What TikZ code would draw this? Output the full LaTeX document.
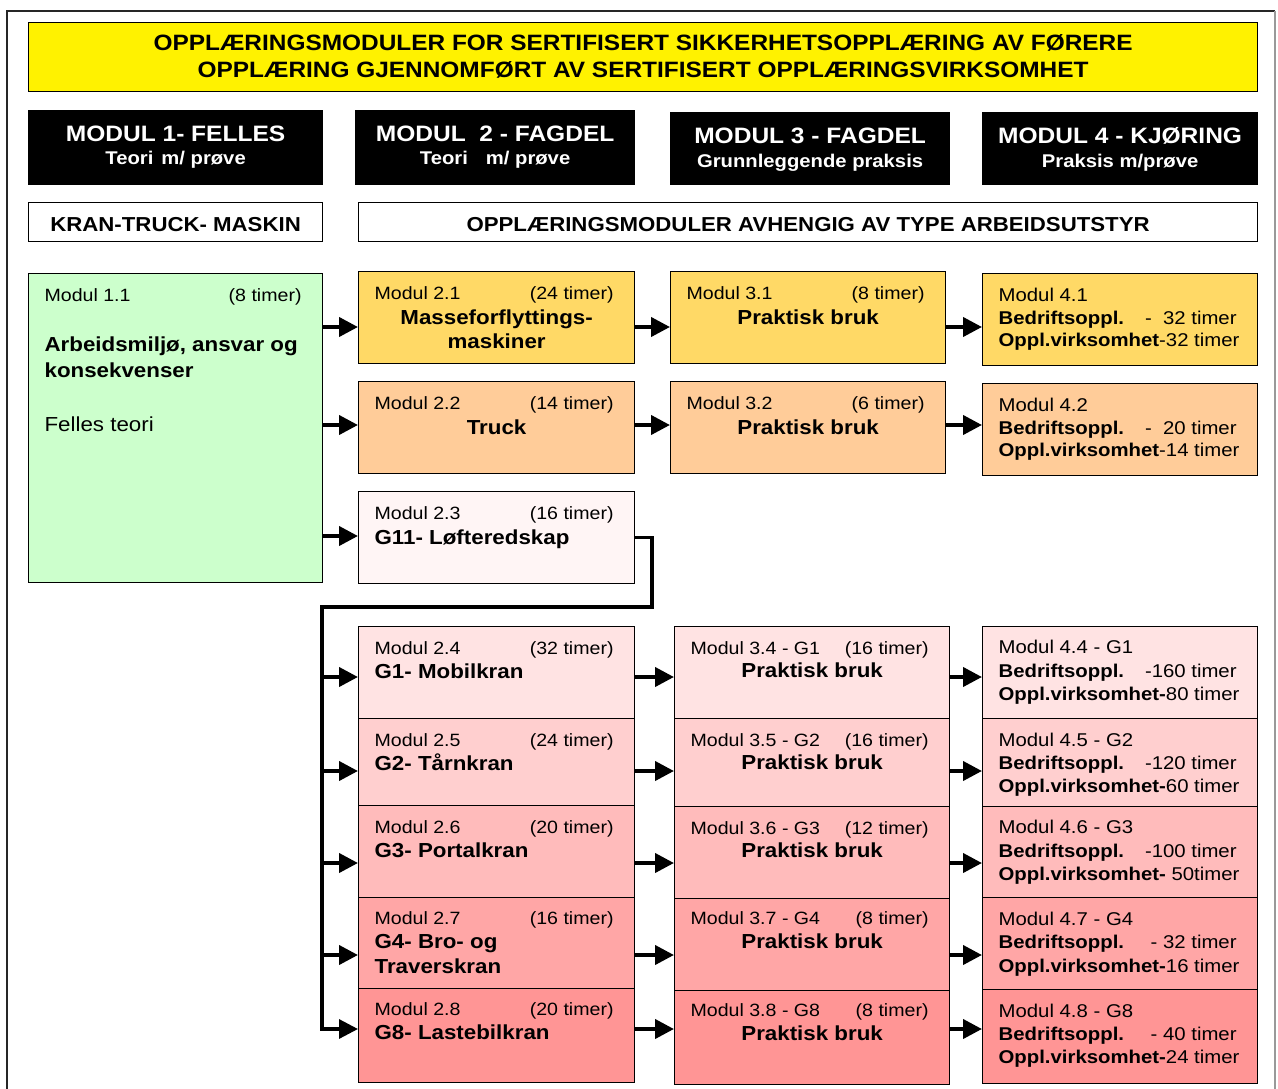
\documentclass[tikz,border=0pt]{standalone}
\usepackage{fontspec}
\setmainfont{Liberation Sans}[FakeStretch=1.1]
\usetikzlibrary{arrows.meta}

\definecolor{grnfill}{HTML}{CCFFCC}
\definecolor{gulfill}{HTML}{FFD966}
\definecolor{ferskfill}{HTML}{FFCC99}
\definecolor{rosa3}{HTML}{FFF5F5}
\definecolor{rosa4}{HTML}{FFE3E3}
\definecolor{rosa5}{HTML}{FFCFCF}
\definecolor{rosa6}{HTML}{FFBBBB}
\definecolor{rosa7}{HTML}{FFA6A6}
\definecolor{rosa8}{HTML}{FF9595}

\newcommand{\boxtxt}[5]{\parbox[c][#2pt][t]{#1pt}{\lineskiplimit=-100pt\parskip=0pt\parindent=0pt\baselineskip=#4pt\hbox{}\kern\dimexpr#3pt-#4pt\relax#5}}
\newcommand{\lr}[2]{\par\noindent\kern16pt\relax#1\hfill#2\kern21pt\relax\par}
\newcommand{\lft}[1]{\par\noindent\kern16pt\relax#1\par}
\newcommand{\ctr}[1]{\par\centerline{#1}}
\newcommand{\ttl}[1]{{\fontsize{20.3}{24}\selectfont\bfseries#1}}
\newcommand{\hbig}[1]{{\fontsize{22.3}{24}\selectfont#1}}
\newcommand{\hsmall}[1]{{\fontsize{18.4}{20}\selectfont#1}}

\begin{document}
\begin{tikzpicture}[x=1pt,y=-1pt,
    mod/.style={draw,line width=1.2pt,inner sep=0pt,anchor=north west,font=\fontsize{17.8}{20}\selectfont},
    hdr/.style={mod,fill=black,text=white,font=\bfseries},
    gtxt/.style={mod,font=\fontsize{18.5}{22}\selectfont},
    arr/.style={line width=4pt,-{Triangle[length=19pt,width=19pt]}}]

  \useasboundingbox (0,0) rectangle (1278,1089);
  \draw[line width=1.5pt,black!85] (7,1089) -- (7,11) -- (1275,11);
  \draw[line width=1.5pt,black!40] (1275,11) -- (1275,1089);

  \node[mod,fill=yellow,font=\bfseries\fontsize{22.2}{27}\selectfont] (title) at (28,22)
    {\boxtxt{1229}{69}{28}{27}{\ctr{OPPLÆRINGSMODULER FOR SERTIFISERT SIKKERHETSOPPLÆRING AV FØRERE}\ctr{OPPLÆRING GJENNOMFØRT AV SERTIFISERT OPPLÆRINGSVIRKSOMHET}}};

  \node[hdr] (h1) at (28,110) {\boxtxt{294}{74}{30.7}{23.5}{\ctr{\hbig{MODUL 1- FELLES}}\ctr{\hsmall{Teori\hspace{8pt}m/ prøve}}}};
  \node[hdr] (h2) at (355,110) {\boxtxt{279}{74}{30.7}{23.5}{\ctr{\hbig{MODUL\ \ 2 - FAGDEL}}\ctr{\hsmall{Teori\hspace{18pt}m/ prøve}}}};
  \node[hdr] (h3) at (670,112) {\boxtxt{279}{72}{30.7}{24}{\ctr{\hbig{MODUL 3 - FAGDEL}}\ctr{\hsmall{Grunnleggende praksis}}}};
  \node[hdr] (h4) at (982,112) {\boxtxt{275}{72}{30.7}{24}{\ctr{\hbig{MODUL 4 - KJØRING}}\ctr{\hsmall{Praksis m/prøve}}}};

  \node[mod,font=\bfseries\fontsize{20.2}{24}\selectfont] (band1) at (28,202) {\boxtxt{294}{39}{28.7}{24}{\ctr{KRAN-TRUCK- MASKIN}}};
  \node[mod,font=\bfseries\fontsize{20.2}{24}\selectfont] (band2) at (358,202) {\boxtxt{899}{39}{28.7}{24}{\ctr{OPPLÆRINGSMODULER AVHENGIG AV TYPE ARBEIDSUTSTYR}}};

  \node[mod,fill=grnfill] (m11) at (28,273) {\boxtxt{294}{309}{28}{25.5}{\lr{Modul 1.1}{(8 timer)}\vskip24.5pt
    \lft{\ttl{Arbeidsmiljø, ansvar og}}\lft{\ttl{konsekvenser}}\vskip29pt
    \lft{{\fontsize{20.3}{24}\selectfont Felles teori}}}};

  \node[mod,fill=gulfill] (m21) at (358,271) {\boxtxt{276}{92}{28}{24.5}{\lr{Modul 2.1}{(24 timer)}\ctr{\ttl{Masseforflyttings-}}\ctr{\ttl{maskiner}}}};
  \node[mod,fill=ferskfill] (m22) at (358,381) {\boxtxt{276}{92}{28}{24.5}{\lr{Modul 2.2}{(14 timer)}\ctr{\ttl{Truck}}}};
  \node[mod,fill=rosa3] (m23) at (358,491) {\boxtxt{276}{92}{28}{24.5}{\lr{Modul 2.3}{(16 timer)}\lft{\ttl{G11- Løfteredskap}}}};

  \node[mod,fill=gulfill] (m31) at (670,271) {\boxtxt{275}{92}{28}{24.5}{\lr{Modul 3.1}{(8 timer)}\ctr{\ttl{Praktisk bruk}}}};
  \node[mod,fill=ferskfill] (m32) at (670,381) {\boxtxt{275}{92}{28}{24.5}{\lr{Modul 3.2}{(6 timer)}\ctr{\ttl{Praktisk bruk}}}};

  \node[gtxt,fill=gulfill] (m41) at (982,273) {\boxtxt{275}{92}{27.7}{22.7}{\lft{Modul 4.1}\lr{\textbf{Bedriftsoppl.}}{-~~32 timer}\lft{\textbf{Oppl.virksomhet}-32 timer}}};
  \node[gtxt,fill=ferskfill] (m42) at (982,383) {\boxtxt{275}{92}{27.7}{22.7}{\lft{Modul 4.2}\lr{\textbf{Bedriftsoppl.}}{-~~20 timer}\lft{\textbf{Oppl.virksomhet}-14 timer}}};

  \node[mod,fill=rosa4] (m24) at (358,626) {\boxtxt{276}{92}{27.5}{24}{\lr{Modul 2.4}{(32 timer)}\lft{\ttl{G1- Mobilkran}}}};
  \node[mod,fill=rosa5] (m25) at (358,718) {\boxtxt{276}{87}{27.5}{24}{\lr{Modul 2.5}{(24 timer)}\lft{\ttl{G2- Tårnkran}}}};
  \node[mod,fill=rosa6] (m26) at (358,805) {\boxtxt{276}{92}{27.5}{24}{\lr{Modul 2.6}{(20 timer)}\lft{\ttl{G3- Portalkran}}}};
  \node[mod,fill=rosa7] (m27) at (358,897) {\boxtxt{276}{91}{26.5}{24.7}{\lr{Modul 2.7}{(16 timer)}\lft{\ttl{G4- Bro- og}}\lft{\ttl{Traverskran}}}};
  \node[mod,fill=rosa8] (m28) at (358,988) {\boxtxt{276}{94}{27}{24}{\lr{Modul 2.8}{(20 timer)}\lft{\ttl{G8- Lastebilkran}}}};

  \node[mod,fill=rosa4] (m34) at (674,626) {\boxtxt{275}{92}{27.5}{23.5}{\lr{Modul 3.4 - G1}{(16 timer)}\ctr{\ttl{Praktisk bruk}}}};
  \node[mod,fill=rosa5] (m35) at (674,718) {\boxtxt{275}{88}{27.5}{23.5}{\lr{Modul 3.5 - G2}{(16 timer)}\ctr{\ttl{Praktisk bruk}}}};
  \node[mod,fill=rosa6] (m36) at (674,806) {\boxtxt{275}{92}{27.5}{23.5}{\lr{Modul 3.6 - G3}{(12 timer)}\ctr{\ttl{Praktisk bruk}}}};
  \node[mod,fill=rosa7] (m37) at (674,898) {\boxtxt{275}{92}{26}{24}{\lr{Modul 3.7 - G4}{(8 timer)}\ctr{\ttl{Praktisk bruk}}}};
  \node[mod,fill=rosa8] (m38) at (674,990) {\boxtxt{275}{94}{26}{24}{\lr{Modul 3.8 - G8}{(8 timer)}\ctr{\ttl{Praktisk bruk}}}};

  \node[gtxt,fill=rosa4] (m44) at (982,626) {\boxtxt{275}{92}{27.3}{23.3}{\lft{Modul 4.4 - G1}\lr{\textbf{Bedriftsoppl.}}{-160 timer}\lft{\textbf{Oppl.virksomhet-}80 timer}}};
  \node[gtxt,fill=rosa5] (m45) at (982,718) {\boxtxt{275}{88}{27.5}{23.3}{\lft{Modul 4.5 - G2}\lr{\textbf{Bedriftsoppl.}}{-120 timer}\lft{\textbf{Oppl.virksomhet-}60 timer}}};
  \node[gtxt,fill=rosa6] (m46) at (982,806) {\boxtxt{275}{91}{27.3}{23.3}{\lft{Modul 4.6 - G3}\lr{\textbf{Bedriftsoppl.}}{-100 timer}\lft{\textbf{Oppl.virksomhet-} 50timer}}};
  \node[gtxt,fill=rosa7] (m47) at (982,897) {\boxtxt{275}{92}{28}{23.3}{\lft{Modul 4.7 - G4}\lr{\textbf{Bedriftsoppl.}}{- 32 timer}\lft{\textbf{Oppl.virksomhet-}16 timer}}};
  \node[gtxt,fill=rosa8] (m48) at (982,989) {\boxtxt{275}{94}{27.7}{23.3}{\lft{Modul 4.8 - G8}\lr{\textbf{Bedriftsoppl.}}{- 40 timer}\lft{\textbf{Oppl.virksomhet-}24 timer}}};

  \coordinate (j1) at (322,327);
  \coordinate (j2) at (322,425);
  \coordinate (j3) at (322,536);
  \coordinate (j4) at (322,677);
  \coordinate (j5) at (322,771);
  \coordinate (j6) at (322,863);
  \coordinate (j7) at (322,955);
  \coordinate (j8) at (322,1029);
  \coordinate (bend) at (652,607);

  \foreach \n in {1,2,3}
    \draw[arr] (m11.east |- j\n) -- (m2\n.west |- j\n);
  \draw[arr,line width=3.2pt] (m23.east) -| (bend) -| (j8) -- (m28.west |- j8);
  \foreach \n in {4,...,7}
    \draw[arr] (j\n) -- (m2\n.west |- j\n);
  \foreach \n in {1,2,4,5,6,7,8} {
    \draw[arr] (m2\n.east |- j\n) -- (m3\n.west |- j\n);
    \draw[arr] (m3\n.east |- j\n) -- (m4\n.west |- j\n);
  }

\end{tikzpicture}
\end{document}
